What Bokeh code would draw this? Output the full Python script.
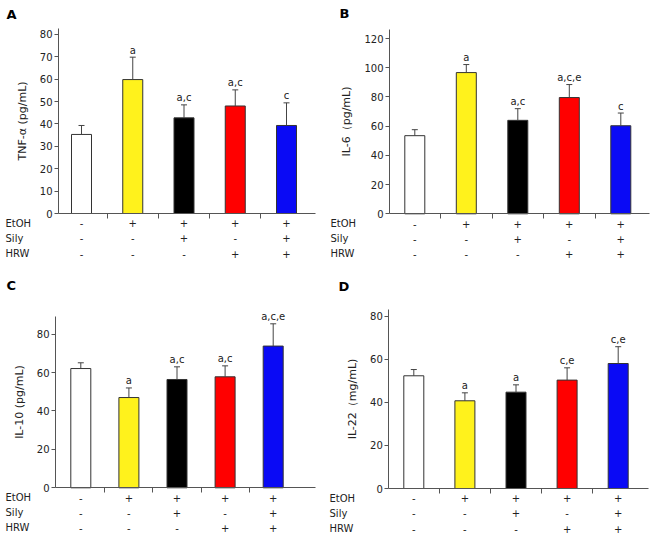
from bokeh.plotting import figure
from bokeh.models import ColumnDataSource, FixedTicker, Range1d
from bokeh.layouts import row, column
from bokeh.embed import file_html
from bokeh.resources import INLINE
from bokeh.core.properties import value

# ---------------- data ----------------
groups = [0, 1, 2, 3, 4]
bar_colors = ["#ffffff", "#fff21c", "#000000", "#ff0000", "#0a0af5"]
treat_rows = ["EtOH", "Sily", "HRW"]
etoh = ["-", "+", "+", "+", "+"]
sily = ["-", "-", "+", "-", "+"]
hrw = ["-", "-", "-", "+", "+"]

tnf_mean = [35.3, 59.8, 42.7, 48.0, 39.3]
tnf_sd = [4.0, 10.0, 5.8, 7.2, 10.1]
tnf_sig = ["", "a", "a,c", "a,c", "c"]

il6_mean = [53.5, 96.7, 64.0, 79.6, 60.3]
il6_sd = [4.1, 5.5, 8.0, 8.9, 8.7]
il6_sig = ["", "a", "a,c", "a,c,e", "c"]

il10_mean = [62.1, 47.0, 56.4, 57.8, 73.8]
il10_sd = [3.0, 5.0, 6.6, 5.7, 11.6]
il10_sig = ["", "a", "a,c", "a,c", "a,c,e"]

il22_mean = [52.3, 40.7, 44.7, 50.3, 58.0]
il22_sd = [2.9, 3.7, 3.4, 5.7, 7.8]
il22_sig = ["", "a", "a", "c,e", "c,e"]

FONT = "DejaVu Sans"
TXT = "#222222"
AXC = "#555555"


def panel(letter, ylabel, means, sds, sig, ticks, ax_top,
          W, H, fl, fr, at, ab, c0, dx, letter_xy, rowlab_x):
    # geometry given in figure pixels
    pxu = (ab - at) / ax_top

    def X(px):
        return (px - c0) / dx

    def Y(py):
        return (ab - py) / pxu

    p = figure(width=W, height=H, x_range=Range1d(X(0), X(W)),
               y_range=Range1d(Y(H), Y(0)), output_backend="svg",
               toolbar_location=None, min_border=0,
               min_border_left=0, min_border_right=0,
               min_border_top=0, min_border_bottom=0)
    p.grid.visible = False
    p.outline_line_color = None

    upper = [m + s for m, s in zip(means, sds)]
    src = ColumnDataSource(dict(x=groups, top=means, upper=upper,
                                color=bar_colors, sig=sig,
                                sig_y=[u + 7 / pxu for u in upper]))
    p.vbar(x="x", top="top", bottom=0, width=20 / dx, fill_color="color",
           line_color="#333333", line_width=1, source=src)
    p.segment(x0="x", y0="top", x1="x", y1="upper", line_color="#444444",
              line_width=1, source=src)
    p.scatter(x="x", y="upper", marker="dash", size=6, line_color="#444444",
              line_width=1, source=src)
    p.text(x="x", y="sig_y", text="sig", source=src,
           text_align="center", text_baseline="alphabetic",
           text_font=value(FONT), text_font_size="10px", text_color=TXT)

    # axes at fixed locations (take no panel space)
    xa = p.xaxis[0]
    xa.fixed_location = 0
    xa.bounds = (X(fl), X(fr))
    xa.ticker = FixedTicker(ticks=[], minor_ticks=[0.5, 1.5, 2.5, 3.5])
    xa.major_tick_line_color = None
    xa.minor_tick_out = 5
    xa.minor_tick_in = 0
    xa.minor_tick_line_color = AXC
    xa.axis_line_color = AXC

    ya = p.yaxis[0]
    ya.fixed_location = X(fl)
    ya.bounds = (0, ax_top)
    ya.ticker = FixedTicker(ticks=ticks)
    ya.axis_label = ylabel
    ya.axis_label_text_font = FONT
    ya.axis_label_text_font_style = "normal"
    ya.axis_label_text_font_size = "11px"
    ya.axis_label_text_color = TXT
    ya.axis_label_standoff = 8
    ya.major_label_text_font = FONT
    ya.major_label_text_font_size = "10px"
    ya.major_label_text_color = TXT
    ya.major_label_standoff = 2
    ya.major_tick_out = 4
    ya.major_tick_in = 0
    ya.minor_tick_line_color = None
    ya.axis_line_color = AXC
    ya.major_tick_line_color = AXC

    # treatment table
    xs, ys, ts = [], [], []
    row_y = [Y(ab + 9.7 + 15.2 * r) for r in range(3)]
    for r, marks in enumerate([etoh, sily, hrw]):
        for g, m in zip(groups, marks):
            xs.append(g)
            ys.append(row_y[r])
            ts.append(m)
    p.text(x=xs, y=ys, text=ts, text_align="center", text_baseline="middle",
           text_font=value(FONT), text_font_size="10px", text_color=TXT)
    p.text(x=[X(rowlab_x)] * 3, y=row_y, text=treat_rows,
           text_align="left", text_baseline="middle",
           text_font=value(FONT), text_font_size="10px", text_color=TXT)

    # panel letter
    p.text(x=[X(letter_xy[0])], y=[Y(letter_xy[1])], text=[letter],
           text_align="left", text_baseline="top",
           text_font=value(FONT), text_font_size="13px",
           text_font_style="bold", text_color="#000000")
    return p


pA = panel("A", "TNF-α (pg/mL)", tnf_mean, tnf_sd, tnf_sig,
           [0, 10, 20, 30, 40, 50, 60, 70, 80], 82.6,
           325, 268, 58, 315, 28, 213, 81, 51.25, (6, 6), 5)
pB = panel("B", "IL-6（pg/mL)", il6_mean, il6_sd, il6_sig,
           [0, 20, 40, 60, 80, 100, 120], 126,
           328, 268, 64, 324, 29.3, 213.3, 89.3, 51.5, (14, 5), 5)
pC = panel("C", "IL-10 (pg/mL)", il10_mean, il10_sd, il10_sig,
           [0, 20, 40, 60, 80], 89.2,
           325, 266, 55, 315, 48, 219.3, 80.3, 48.1, (6, 9), 5)
pD = panel("D", "IL-22（mg/mL)", il22_mean, il22_sd, il22_sig,
           [0, 20, 40, 60, 80], 83.2,
           328, 266, 63.3, 322.7, 40.7, 220, 88.3, 51.1, (13, 10), 4)

layout = column(row(pA, pB), row(pC, pD))
open("out.html", "w").write(file_html(layout, INLINE))
